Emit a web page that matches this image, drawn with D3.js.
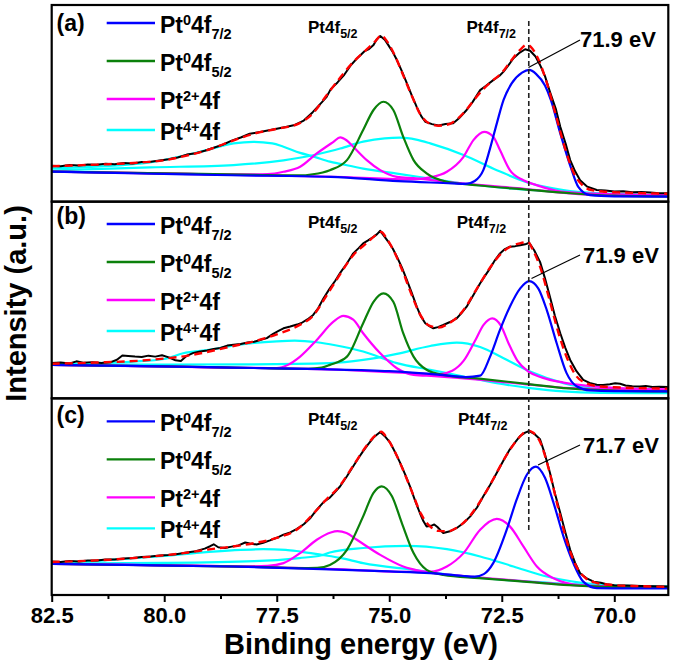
<!DOCTYPE html>
<html><head><meta charset="utf-8">
<script src="https://cdn.jsdelivr.net/npm/d3@7"></script>
<style>
body{margin:0;background:#fff;}
svg{display:block;font-family:"Liberation Sans",Arial,sans-serif;font-weight:bold;}
</style></head><body>
<svg id="chart" width="675" height="667"></svg>
<script>
// ---------------- DATA (binding energy eV, intensity a.u.) ----------------
const xTicks = [82.5, 80.0, 77.5, 75.0, 72.5, 70.0];
const xMinorTicks = [81.25, 78.75, 76.25, 73.75, 71.25];
const panelLabels = ["(a)", "(b)", "(c)"];
const peakValues = ["71.9 eV", "71.9 eV", "71.7 eV"];
const legendNames = [
  [["Pt",""],["0","sup"],["4f",""],["7/2","sub"]],
  [["Pt",""],["0","sup"],["4f",""],["5/2","sub"]],
  [["Pt",""],["2+","sup"],["4f",""]],
  [["Pt",""],["4+","sup"],["4f",""]]
];

// ---- panel (a)
const rawA = [[82.5,18.2],[82.3,18.0],[82.1,18.6],[81.9,18.3],[81.7,18.9],[81.5,18.7],[81.3,19.3],[81.1,19.0],[80.9,19.6],[80.7,19.4],[80.5,20.1],[80.3,20.3],[80.1,20.9],[79.9,21.5],[79.7,22.4],[79.5,23.9],[79.3,24.6],[79.1,25.9],[78.9,27.4],[78.7,28.9],[78.5,31.0],[78.3,32.6],[78.1,34.5],[77.9,35.3],[77.7,36.2],[77.5,37.1],[77.3,37.9],[77.1,39.0],[76.9,41.2],[76.7,45.5],[76.5,50.5],[76.4,53.0],[76.3,57.2],[76.15,60.6],[76.0,64.5],[75.85,69.5],[75.7,73.2],[75.55,76.5],[75.45,77.6],[75.35,79.6],[75.28,82.5],[75.2,84.2],[75.1,82.3],[75.02,79.6],[74.92,76.0],[74.83,72.0],[74.72,66.4],[74.61,60.2],[74.5,54.0],[74.39,48.2],[74.29,43.5],[74.2,40.6],[74.05,39.4],[73.9,38.7],[73.75,39.5],[73.58,39.8],[73.45,42.4],[73.28,46.6],[73.15,50.6],[72.98,56.7],[72.85,58.9],[72.69,61.8],[72.55,64.0],[72.46,66.1],[72.35,69.4],[72.24,72.9],[72.1,75.8],[71.98,77.5],[71.87,76.7],[71.75,73.8],[71.65,69.5],[71.54,63.8],[71.43,55.9],[71.3,47.2],[71.2,38.1],[71.08,29.4],[70.98,21.1],[70.87,15.4],[70.76,10.9],[70.6,7.6],[70.39,5.9],[70.2,5.6],[70.0,5.1],[69.8,5.3],[69.6,4.8],[69.4,4.9],[69.2,4.6],[69.0,4.3],[68.8,4.2]];
const fitA = [[82.5,18.0],[81.5,18.8],[80.5,19.9],[80.0,21.0],[79.5,23.4],[79.0,26.5],[78.5,30.8],[78.0,34.6],[77.5,37.0],[77.0,39.8],[76.7,44.8],[76.4,53.8],[76.1,62.8],[75.8,71.0],[75.5,77.4],[75.3,81.8],[75.18,84.6],[75.05,81.5],[74.9,75.5],[74.7,64.8],[74.5,53.8],[74.3,44.0],[74.1,39.6],[73.9,38.6],[73.7,39.2],[73.5,41.8],[73.3,46.3],[73.1,52.2],[72.9,57.5],[72.7,61.6],[72.5,65.5],[72.3,71.5],[72.1,77.0],[71.95,79.8],[71.85,78.6],[71.7,73.0],[71.5,60.5],[71.3,44.0],[71.1,27.5],[70.9,14.5],[70.7,8.2],[70.5,5.8],[70.2,5.0],[69.8,4.6],[69.4,4.3],[68.8,4.0]];
const blueA = [[82.5,15.2],[80.5,14.3],[78.5,13.4],[76.3,12.6],[74.8,10.4],[73.6,9.3],[73.3,9.0],[73.1,10.5],[72.91,16.0],[72.76,27.1],[72.61,39.8],[72.46,51.7],[72.28,60.1],[72.05,65.6],[71.89,67.0],[71.74,65.0],[71.54,59.0],[71.41,51.7],[71.2,34.7],[70.97,17.7],[70.8,7.5],[70.54,3.3],[70.0,2.7],[68.8,2.5]];
const greenA = [[82.5,15.3],[80,14.4],[78,13.6],[77,13.3],[76.7,13.9],[76.32,16.0],[75.94,21.1],[75.58,36.4],[75.35,46.6],[75.13,50.8],[74.91,46.6],[74.69,33.0],[74.46,21.1],[74.17,14.4],[73.72,10.1],[73.0,8.2],[72.0,6.2],[71.0,4.3],[70.0,3.0],[68.8,2.6]];
const mag1A = [[82.5,15.2],[78,13.5],[76,12.5],[74.5,11.3],[74.09,12.3],[73.72,15.2],[73.35,22.8],[73.13,31.3],[72.89,35.5],[72.69,33.0],[72.54,26.2],[72.32,16.0],[72.02,10.9],[71.73,8.4],[71.13,5.0],[70,3.8],[68.8,3.3]];
const mag2A = [[82.5,15.3],[80,14.4],[78.2,13.8],[77.7,14.0],[77.35,15.2],[76.98,17.7],[76.61,24.5],[76.24,30.4],[76.09,32.7],[75.95,31.2],[75.8,27.9],[75.5,21.1],[75.2,16.0],[74.83,12.6],[74.46,11.9],[73.5,9.5],[72,6.5],[70.5,3.5],[68.8,2.8]];
const cyan1A = [[82.5,15.8],[80.32,17.4],[78.46,18.6],[77.35,21.0],[76.69,23.6],[76.32,25.6],[76.09,27.0],[75.58,30.5],[75.1,32.2],[74.76,32.5],[74.4,31.5],[74.09,29.6],[73.35,23.7],[72.61,16.0],[71.87,9.3],[71.13,5.9],[70.39,4.2],[68.8,2.9]];
const cyan2A = [[82.5,16.9],[81.43,17.9],[80.32,19.9],[79.2,25.3],[78.46,29.6],[78.02,30.4],[77.6,29.6],[77.35,27.9],[76.98,24.8],[76.69,23.0],[76.32,20.3],[76.09,19.2],[75.58,16.8],[74.83,14.2],[74.09,11.7],[73.35,9.2],[71.87,5.9],[70.39,4.2],[68.8,3.0]];

// ---- panel (b)
const rawB = [[82.5,17.9],[82.3,18.2],[82.1,17.7],[81.95,18.8],[81.8,18.1],[81.6,18.4],[81.4,18.0],[81.2,18.3],[81.05,19.6],[80.93,21.8],[80.8,21.5],[80.65,21.2],[80.5,21.0],[80.35,21.7],[80.2,21.2],[80.05,21.9],[79.9,20.8],[79.75,19.3],[79.63,19.0],[79.5,21.6],[79.35,23.1],[79.2,23.8],[79.05,24.3],[78.9,25.1],[78.75,25.6],[78.6,26.8],[78.46,27.2],[78.3,27.6],[78.15,28.4],[78.0,28.8],[77.85,29.8],[77.72,30.6],[77.58,32.8],[77.45,34.4],[77.35,35.6],[77.2,36.5],[77.05,37.5],[76.95,38.3],[76.82,40.1],[76.69,42.4],[76.58,45.8],[76.46,50.9],[76.32,55.9],[76.2,59.8],[76.09,63.8],[75.95,68.3],[75.8,73.7],[75.68,76.4],[75.58,78.8],[75.47,80.3],[75.35,82.1],[75.27,83.5],[75.2,85.2],[75.11,82.4],[75.02,79.6],[74.92,76.1],[74.83,72.0],[74.72,66.6],[74.61,60.2],[74.5,53.6],[74.39,46.6],[74.3,41.8],[74.2,38.2],[74.1,36.6],[74.02,35.6],[73.92,36.2],[73.8,37.3],[73.65,38.8],[73.5,40.7],[73.4,43.2],[73.28,46.6],[73.13,52.5],[72.98,58.5],[72.87,62.4],[72.76,66.1],[72.65,70.3],[72.54,73.7],[72.43,75.9],[72.32,77.1],[72.2,77.4],[72.09,77.9],[71.98,78.3],[71.89,79.1],[71.78,75.3],[71.65,69.4],[71.54,61.0],[71.43,51.7],[71.32,42.0],[71.2,33.1],[71.09,25.8],[70.98,19.5],[70.84,13.8],[70.69,9.4],[70.55,7.8],[70.39,6.9],[70.25,6.8],[70.1,7.2],[69.98,7.6],[69.87,7.4],[69.75,6.5],[69.6,6.1],[69.43,6.0],[69.3,6.2],[69.15,5.8],[69.0,5.9],[68.8,5.7]];
const fitB = [[82.5,17.6],[81.5,18.2],[80.5,19.2],[80.0,20.2],[79.5,21.6],[79.0,23.8],[78.5,26.4],[78.0,29.0],[77.5,32.5],[77.0,37.2],[76.7,41.8],[76.4,52.0],[76.1,62.8],[75.8,72.8],[75.5,79.0],[75.3,83.0],[75.18,84.6],[75.05,81.0],[74.9,75.0],[74.7,64.5],[74.5,52.5],[74.3,42.0],[74.1,36.8],[73.9,36.0],[73.7,37.8],[73.5,41.0],[73.3,46.5],[73.1,54.0],[72.9,61.5],[72.7,68.5],[72.5,74.0],[72.3,77.2],[72.1,78.8],[71.92,79.5],[71.8,75.0],[71.65,67.0],[71.45,51.0],[71.25,34.0],[71.05,20.5],[70.85,11.5],[70.6,7.5],[70.3,6.0],[70.0,5.6],[69.5,5.2],[68.8,4.9]];
const blueB = [[82.5,17.0],[80.5,16.4],[78.5,15.6],[76.5,14.8],[75,13.8],[73.8,11.8],[73.3,10.8],[72.98,11.5],[72.76,21.2],[72.54,34.8],[72.32,46.6],[72.09,55.9],[71.89,59.6],[71.69,55.9],[71.5,44.9],[71.28,28.0],[71.06,12.8],[70.83,6.0],[70.54,4.0],[70.0,3.6],[68.8,3.5]];
const greenB = [[82.5,17.0],[80,16.2],[78,15.4],[76.8,15.0],[76.5,15.6],[76.32,17.0],[75.94,21.2],[75.58,38.2],[75.35,49.1],[75.13,53.4],[74.91,49.1],[74.69,33.1],[74.46,21.2],[74.17,14.5],[73.8,11.9],[73,10.0],[72,7.5],[71,5.0],[70,3.9],[68.8,3.5]];
const mag1B = [[82.5,17.0],[79,15.8],[76,14.4],[74.5,12.8],[73.9,12.2],[73.6,14.0],[73.35,19.0],[73.1,29.0],[72.9,37.5],[72.71,40.7],[72.52,37.0],[72.35,28.0],[72.15,19.0],[71.9,13.5],[71.6,10.5],[71.13,8.0],[70.39,5.9],[69.5,4.8],[68.8,4.5]];
const mag2B = [[82.5,17.0],[80,16.2],[78,15.4],[77.5,15.4],[77.25,17.0],[76.98,21.2],[76.61,29.7],[76.24,39.0],[76.02,41.9],[75.8,40.0],[75.58,33.1],[75.2,22.9],[74.83,15.3],[74.46,11.9],[74,11.3],[73,9.5],[72,7.2],[71,5.2],[70,4.6],[68.8,4.4]];
const cyan1B = [[82.5,17.2],[80,17.2],[78,17.3],[76.32,17.9],[75.58,19.5],[74.83,22.6],[74.09,26.6],[73.5,28.3],[72.98,26.1],[72.46,20.4],[71.87,13.6],[71.13,7.7],[70.39,4.7],[69.5,3.5],[68.8,3.3]];
const cyan2B = [[82.5,17.5],[81.5,17.9],[80.69,18.7],[80,20.0],[79.58,22.9],[79,24.6],[78.46,26.9],[78,28.2],[77.5,29.0],[77.1,29.3],[76.61,28.5],[76.2,27.0],[75.58,23.8],[74.83,17.9],[74.09,14.5],[73.35,11.1],[72.61,7.7],[71.87,5.2],[71.13,3.5],[70.3,2.8],[68.8,2.6]];

// ---- panel (c)
const rawC = [[82.5,17.0],[82.3,16.8],[82.1,17.3],[81.9,17.1],[81.7,17.6],[81.5,17.6],[81.3,18.1],[81.1,18.0],[80.9,18.6],[80.7,18.8],[80.5,19.3],[80.3,19.6],[80.1,20.1],[79.9,20.3],[79.7,20.9],[79.5,21.6],[79.3,22.3],[79.1,23.6],[78.98,24.8],[78.9,25.8],[78.8,24.3],[78.65,23.9],[78.5,24.6],[78.35,25.2],[78.2,26.7],[78.1,26.2],[77.95,25.7],[77.8,26.6],[77.65,27.8],[77.5,29.1],[77.35,30.7],[77.2,31.8],[77.05,33.6],[76.9,36.0],[76.75,39.2],[76.61,43.4],[76.45,47.5],[76.32,49.5],[76.2,52.5],[76.09,55.3],[75.94,60.4],[75.8,65.5],[75.68,69.8],[75.58,73.2],[75.47,76.6],[75.35,80.1],[75.27,81.6],[75.2,82.9],[75.1,80.8],[74.98,77.5],[74.87,72.6],[74.76,67.3],[74.65,61.5],[74.54,55.3],[74.43,48.3],[74.32,41.7],[74.24,37.5],[74.17,34.9],[74.07,35.2],[74.0,35.9],[73.93,34.6],[73.8,31.5],[73.65,32.4],[73.5,34.1],[73.35,36.6],[73.2,40.0],[73.05,44.5],[72.91,50.2],[72.76,56.0],[72.61,62.2],[72.46,68.5],[72.32,74.1],[72.2,77.8],[72.09,80.9],[71.98,82.6],[71.89,83.4],[71.78,82.0],[71.65,79.2],[71.54,71.5],[71.43,62.2],[71.32,51.8],[71.2,41.7],[71.09,32.0],[70.98,23.0],[70.87,16.3],[70.76,11.1],[70.6,8.3],[70.46,6.8],[70.3,6.2],[70.17,5.5],[70.0,5.0],[69.7,4.8],[69.4,4.6],[69.1,4.4],[68.8,4.3]];
const fitC = [[82.5,16.8],[81.5,17.6],[80.5,19.1],[80,20.2],[79.5,21.5],[79,23.2],[78.5,24.6],[78,26.4],[77.5,29.0],[77,34.2],[76.7,41.0],[76.4,48.5],[76.1,55.5],[75.8,65.8],[75.5,76.0],[75.3,81.4],[75.18,83.0],[75.05,79.8],[74.9,74.0],[74.7,64.0],[74.5,52.8],[74.3,41.5],[74.1,35.0],[73.9,32.6],[73.7,32.4],[73.5,34.2],[73.3,37.8],[73.1,43.5],[72.9,50.5],[72.7,58.5],[72.5,67.0],[72.3,74.5],[72.1,80.5],[71.92,83.6],[71.8,82.5],[71.65,78.0],[71.45,63.5],[71.25,44.5],[71.05,27.0],[70.85,14.8],[70.65,8.8],[70.4,6.2],[70.1,5.2],[69.6,4.6],[68.8,4.2]];
const blueC = [[82.5,15.8],[80.5,15.2],[78.5,14.5],[76.5,13.2],[75,12.0],[74.09,11.1],[73.4,9.8],[73.1,9.3],[72.9,10.6],[72.69,16.2],[72.39,33.2],[72.17,48.5],[71.94,61.3],[71.74,65.3],[71.54,59.6],[71.35,46.9],[71.13,29.8],[70.91,16.2],[70.69,6.8],[70.39,3.5],[69.8,3.4],[68.8,3.4]];
const greenC = [[82.5,15.8],[80,15.0],[78,14.3],[77,13.7],[76.6,13.8],[76.32,15.3],[75.94,23.0],[75.58,40.0],[75.35,52.0],[75.17,55.3],[74.94,50.2],[74.72,36.6],[74.46,21.3],[74.17,12.8],[73.8,10.2],[73,8.6],[72,6.8],[71,5.0],[70,4.0],[68.8,3.8]];
const mag1C = [[82.5,15.8],[79,14.8],[76,13.0],[74.8,11.8],[74.09,11.9],[73.72,14.5],[73.35,21.3],[72.98,33.2],[72.61,38.7],[72.32,34.9],[72.02,24.7],[71.72,14.5],[71.35,8.5],[70.76,5.0],[69.8,4.2],[68.8,4.0]];
const mag2C = [[82.5,15.9],[80,15.1],[78.2,14.6],[77.7,14.8],[77.35,16.2],[76.98,21.3],[76.61,28.1],[76.3,31.8],[76.15,32.5],[75.95,31.5],[75.72,28.1],[75.2,20.4],[74.69,14.5],[74.24,11.9],[73.5,10.0],[72.5,8.0],[71.5,6.0],[70.5,4.5],[68.8,4.0]];
const cyan1C = [[82.5,16.0],[80,16.3],[78,17.2],[77,18.8],[76.5,20.2],[76.32,21.6],[75.58,23.9],[74.61,25.0],[73.72,23.3],[72.98,19.6],[72.24,14.5],[71.5,9.4],[70.76,6.3],[70.0,4.8],[68.8,4.3]];
const cyan2C = [[82.5,16.5],[81.5,17.3],[80.69,18.7],[80,19.9],[79.2,21.6],[78.5,22.7],[77.8,23.3],[77.3,23.0],[76.98,22.1],[76.5,20.4],[76.09,18.9],[75.58,16.2],[74.46,12.8],[73.35,9.4],[71.87,6.8],[70.5,5.0],[68.8,4.3]];

// ---------------- LAYOUT ----------------
const svg = d3.select("#chart");
const plotL = 51.7, plotR = 668.3;
const panelTops = [5, 201.7, 398.4];
const panelH = 196.6;
const x = d3.scaleLinear().domain([82.5, 68.8]).range([plotL, plotR]);

const colors = {blue:"#0000ff", green:"#0b800b", magenta:"#ff00ff", cyan:"#00ffff"};
const panels = [
  {raw:rawA, fit:fitA, comps:[[cyan1A,"cyan"],[cyan2A,"cyan"],[mag1A,"magenta"],[mag2A,"magenta"],[greenA,"green"],[blueA,"blue"]],
   labelDy:25.5, legendDy:18, peakDy:28, pt72x:466.5, annot:{tx:580, ty:46.7, x1:580, y1:40, x2:528.5, y2:67.5}},
  {raw:rawB, fit:fitB, comps:[[cyan1B,"cyan"],[cyan2B,"cyan"],[mag1B,"magenta"],[mag2B,"magenta"],[greenB,"green"],[blueB,"blue"]],
   labelDy:22.5, legendDy:22.3, peakDy:26.6, pt72x:456.7, annot:{tx:583, ty:263.3, x1:580, y1:255, x2:531.5, y2:278.5}},
  {raw:rawC, fit:fitC, comps:[[cyan1C,"cyan"],[cyan2C,"cyan"],[mag1C,"magenta"],[mag2C,"magenta"],[greenC,"green"],[blueC,"blue"]],
   labelDy:25, legendDy:23, peakDy:26.5, pt72x:458, annot:{tx:583, ty:453.3, x1:580, y1:445, x2:538, y2:465}}
];
const legendColors = ["blue","green","magenta","cyan"];
const legendRowDy = [0, 38, 76, 107];

panels.forEach((p, i) => {
  const top = panelTops[i];
  const y = d3.scaleLinear().domain([0, 100]).range([top + panelH, top]);
  const clipId = "clip" + i;
  svg.append("clipPath").attr("id", clipId).append("rect")
    .attr("x", plotL).attr("y", top).attr("width", plotR - plotL).attr("height", panelH);
  const g = svg.append("g").attr("clip-path", `url(#${clipId})`);
  const smooth = d3.line().x(d => x(d[0])).y(d => y(d[1])).curve(d3.curveMonotoneX);
  const lin = d3.line().x(d => x(d[0])).y(d => y(d[1]));
  p.comps.forEach(([data, c]) => {
    g.append("path").attr("d", smooth(data)).attr("fill", "none")
      .attr("stroke", colors[c]).attr("stroke-width", 2.2).attr("stroke-linejoin", "round");
  });
  g.append("path").attr("d", lin(p.raw)).attr("fill", "none")
    .attr("stroke", "#000").attr("stroke-width", 2).attr("stroke-linejoin", "round");
  g.append("path").attr("d", smooth(p.fit)).attr("fill", "none")
    .attr("stroke", "#ff0000").attr("stroke-width", 2.4).attr("stroke-dasharray", "8,5");

  // panel label
  svg.append("text").attr("x", 56.5).attr("y", top + p.labelDy)
    .attr("font-size", 23).text(panelLabels[i]);

  // legend
  legendNames.forEach((parts, k) => {
    const ly = top + p.legendDy + legendRowDy[k];
    svg.append("line").attr("x1", 106.7).attr("x2", 155).attr("y1", ly).attr("y2", ly)
      .attr("stroke", colors[legendColors[k]]).attr("stroke-width", 2.4);
    const t = svg.append("text").attr("x", 160).attr("y", ly + 10).attr("font-size", 23);
    let shift = 0;
    parts.forEach(([s, kind]) => {
      let target = kind === "sup" ? -8.5 : kind === "sub" ? 6 : 0;
      t.append("tspan").attr("dy", target - shift)
        .attr("font-size", kind ? 14.5 : 23).text(s);
      shift = target;
    });
  });

  // peak labels
  const py = top + p.peakDy;
  const t1 = svg.append("text").attr("x", 308).attr("y", py).attr("font-size", 17);
  t1.append("tspan").text("Pt4f");
  t1.append("tspan").attr("dy", 5).attr("font-size", 12.5).text("5/2");
  const t2 = svg.append("text").attr("x", p.pt72x).attr("y", py).attr("font-size", 17);
  t2.append("tspan").text("Pt4f");
  t2.append("tspan").attr("dy", 5).attr("font-size", 12.5).text("7/2");

  // annotation
  const a = p.annot;
  svg.append("line").attr("x1", a.x1).attr("y1", a.y1).attr("x2", a.x2).attr("y2", a.y2)
    .attr("stroke", "#000").attr("stroke-width", 1.2);
  svg.append("text").attr("x", a.tx).attr("y", a.ty).attr("font-size", 22).text(peakValues[i]);

  // frame
  svg.append("rect").attr("x", plotL).attr("y", top).attr("width", plotR - plotL).attr("height", panelH)
    .attr("fill", "none").attr("stroke", "#000").attr("stroke-width", 2.2);
});

// dashed reference line at 71.9 eV
svg.append("line").attr("x1", x(71.9)).attr("x2", x(71.9)).attr("y1", 21).attr("y2", 532)
  .attr("stroke", "#222").attr("stroke-width", 1.6).attr("stroke-dasharray", "5,3");

// x axis
const bottom = panelTops[2] + panelH;
const axisG = svg.append("g").attr("transform", `translate(0,${bottom})`)
  .call(d3.axisBottom(x).tickValues(xTicks).tickFormat(d3.format(".1f")).tickSize(7).tickPadding(5).tickSizeOuter(0));
axisG.select(".domain").remove();
axisG.selectAll("line").attr("stroke-width", 2);
axisG.selectAll("text").attr("font-size", 22).attr("font-family", "Liberation Sans, Arial, sans-serif").attr("font-weight", "bold").attr("fill", "#000");
const minorG = svg.append("g").attr("transform", `translate(0,${bottom})`)
  .call(d3.axisBottom(x).tickValues(xMinorTicks).tickFormat("").tickSize(4).tickSizeOuter(0));
minorG.select(".domain").remove();
minorG.selectAll("line").attr("stroke-width", 2);

// axis titles
svg.append("text").attr("x", 361).attr("y", 654).attr("text-anchor", "middle")
  .attr("font-size", 29).text("Binding energy (eV)");
svg.append("text").attr("transform", "translate(26,303.5) rotate(-90)").attr("text-anchor", "middle")
  .attr("font-size", 29).text("Intensity (a.u.)");
</script></body></html>
